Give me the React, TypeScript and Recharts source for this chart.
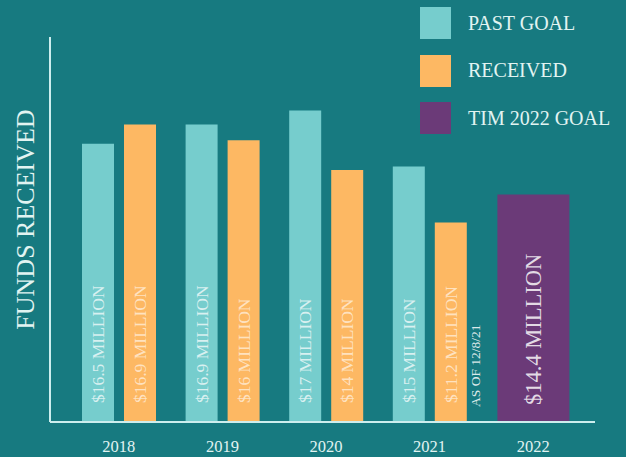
import React from 'react';
import { BarChart, Bar, XAxis, YAxis, LabelList, Legend } from 'recharts';

// Values (the chart's bars are not drawn to the printed labels)
const years = ['2018', '2019', '2020', '2021', '2022'];
const pastGoal = [15.9, 17.0, 17.8, 14.6, null];
const received = [17.0, 16.1, 14.4, 11.4, null];
const timGoal = [null, null, null, null, 13.0];
const pastLabels = ['$16.5 MILLION', '$16.9 MILLION', '$17 MILLION', '$15 MILLION', ''];
const receivedLabels = ['$16.9 MILLION', '$16 MILLION', '$14 MILLION', '$11.2 MILLION', ''];
const goalLabels = ['', '', '', '', '$14.4 MILLION'];
const receivedNotes = ['', '', '', 'AS OF 12/8/21', ''];

const legendItems = [
  { name: 'PAST GOAL', color: '#76cdcd' },
  { name: 'RECEIVED', color: '#fdb863' },
  { name: 'TIM 2022 GOAL', color: '#6b3a78' },
];

const data = years.map((year, i) => ({
  year,
  past: pastGoal[i],
  received: received[i],
  goal: timGoal[i],
  pastLabel: pastLabels[i],
  receivedLabel: receivedLabels[i],
  goalLabel: goalLabels[i],
  note: receivedNotes[i],
}));

const BG = '#177a80';
const AXIS = '#cdeeee';
const TEXT = '#e2f4f2';
const FONT = '"Liberation Serif", "Times New Roman", serif';

const barText = (size: number, opacity: number, offsetX: number, lift: number) => (props: any) => {
  const { x, y, width, height, value } = props;
  if (!value) return null;
  const cx = Number(x) + Number(width) / 2 + offsetX;
  const bottom = Number(y) + Number(height) - lift;
  return (
    <text
      x={cx}
      y={bottom}
      transform={`rotate(-90 ${cx} ${bottom})`}
      dy="0.34em"
      textAnchor="start"
      fill="#ffffff"
      fillOpacity={opacity}
      fontFamily={FONT}
      fontSize={size}
    >
      {value}
    </text>
  );
};

const YearTick = (props: any) => (
  <text x={props.x} y={Number(props.y) + 30} textAnchor="middle" fill={TEXT} fontFamily={FONT} fontSize={16.5}>
    {props.payload.value}
  </text>
);

// axis title, centred a little above the middle of the axis
const AxisTitle = (props: any) => {
  const vb = props.viewBox || {};
  const cx = 25;
  const cy = Number(vb.y) + Number(vb.height) / 2 - 10;
  return (
    <text
      x={cx}
      y={cy}
      transform={`rotate(-90 ${cx} ${cy})`}
      dy="0.34em"
      textAnchor="middle"
      fill={TEXT}
      fontFamily={FONT}
      fontSize={26}
    >
      FUNDS RECEIVED
    </text>
  );
};

const LegendBox = () => (
  <div>
    {legendItems.map((item, i) => (
      <div key={item.name} style={{ position: 'absolute', left: 0, top: i * 47.5, height: 32, display: 'flex', alignItems: 'center' }}>
        <div style={{ width: 31, height: 32, background: item.color }} />
        <span style={{ marginLeft: 17, color: TEXT, fontFamily: FONT, fontSize: 20, whiteSpace: 'nowrap' }}>{item.name}</span>
      </div>
    ))}
  </div>
);

export default function App() {
  return (
    <div style={{ width: 626, height: 457, background: BG, position: 'relative' }}>
      <style>{'body{margin:0}'}</style>
      <BarChart
        width={626}
        height={457}
        data={data}
        margin={{ top: 37, right: 31, bottom: 0, left: 0 }}
        barGap={10}
      >
        <XAxis
          dataKey="year"
          height={35}
          padding={{ left: 17, right: 10 }}
          axisLine={{ stroke: AXIS, strokeWidth: 2 }}
          tickLine={false}
          tickSize={0}
          tickMargin={0}
          tick={<YearTick />}
        />
        <XAxis xAxisId="goal" dataKey="year" hide padding={{ left: 17, right: 10 }} />
        <YAxis
          width={50}
          domain={[0, 22]}
          tick={false}
          tickLine={false}
          axisLine={{ stroke: AXIS, strokeWidth: 2 }}
          label={<AxisTitle />}
        />
        <Legend
          verticalAlign="top"
          align="left"
          wrapperStyle={{ position: 'absolute', left: 420, top: 7, width: 200 }}
          content={<LegendBox />}
        />
        <Bar dataKey="past" fill="#76cdcd" barSize={32} isAnimationActive={false}>
          <LabelList dataKey="pastLabel" content={barText(17.5, 0.72, 0, 19)} />
        </Bar>
        <Bar dataKey="received" fill="#fdb863" barSize={32} isAnimationActive={false}>
          <LabelList dataKey="receivedLabel" content={barText(17.5, 0.62, 0, 19)} />
          <LabelList dataKey="note" content={barText(13.5, 0.85, 25, 15)} />
        </Bar>
        <Bar dataKey="goal" xAxisId="goal" fill="#6b3a78" barSize={72} isAnimationActive={false}>
          <LabelList dataKey="goalLabel" content={barText(22.5, 0.82, 0, 17)} />
        </Bar>
      </BarChart>
    </div>
  );
}
